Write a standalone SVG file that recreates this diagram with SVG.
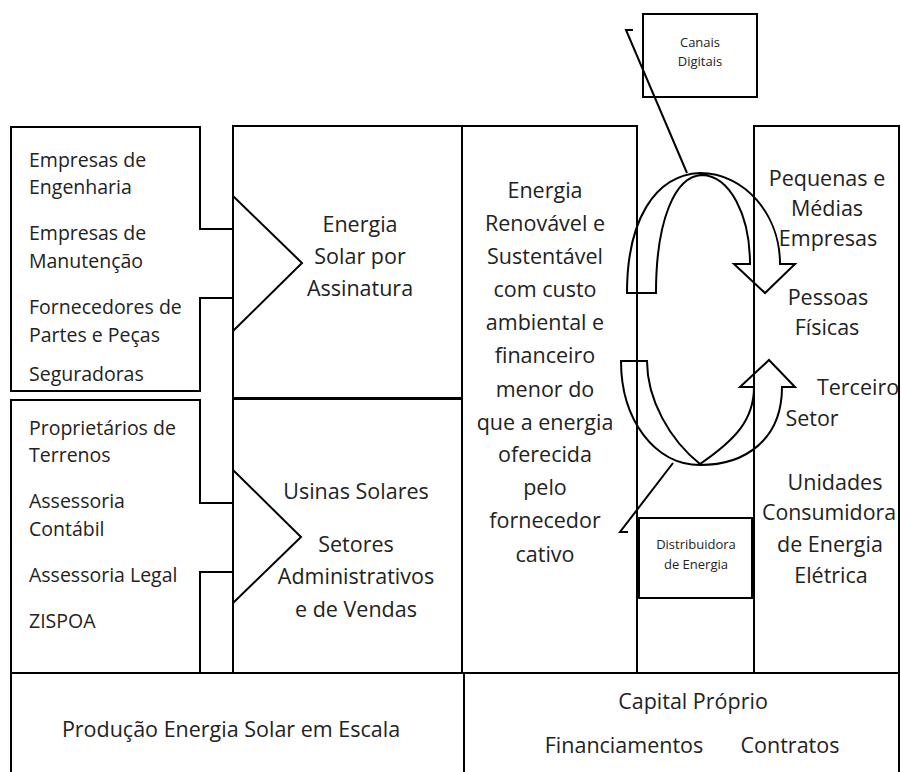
<svg xmlns="http://www.w3.org/2000/svg" width="901" height="772" viewBox="0 0 901 772">
  <style>
    .box { fill: none; stroke: #000; stroke-width: 2; }
    .ln { fill: none; stroke: #000; stroke-width: 2; stroke-linejoin: miter; }
    .arr { fill: none; stroke: #000; stroke-width: 2; stroke-linejoin: miter; }
    text { font-family: "Open Sans", "Noto Sans", sans-serif; fill: #222; }
    .lt { font-size: 19.5px; }
    .ct { font-size: 21.5px; text-anchor: middle; }
    .sm { font-size: 13px; text-anchor: middle; }
  </style>
  <rect x="0" y="0" width="901" height="772" fill="#fff"/>

  <!-- Partners, upper block with bracket notch -->
  <g id="partners-top">
    <path class="ln" d="M233,229 H200 V127 H11 V391 H200 V298 H233"/>
    <text class="lt" x="29" y="167">Empresas de</text>
    <text class="lt" x="29" y="194">Engenharia</text>
    <text class="lt" x="29" y="240">Empresas de</text>
    <text class="lt" x="29" y="268">Manutenção</text>
    <text class="lt" x="29" y="314">Fornecedores de</text>
    <text class="lt" x="29" y="342">Partes e Peças</text>
    <text class="lt" x="29" y="381">Seguradoras</text>
  </g>

  <!-- Partners, lower block -->
  <g id="partners-bottom">
    <path class="ln" d="M233,503 H200 V400 H11 V673 H200 V572 H233"/>
    <text class="lt" x="29" y="435">Proprietários de</text>
    <text class="lt" x="29" y="462">Terrenos</text>
    <text class="lt" x="29" y="508">Assessoria</text>
    <text class="lt" x="29" y="536">Contábil</text>
    <text class="lt" x="29" y="582">Assessoria Legal</text>
    <text class="lt" x="29" y="628">ZISPOA</text>
  </g>

  <!-- Activities -->
  <g id="activities">
    <rect class="box" x="233" y="126" width="229" height="272"/>
    <polyline class="ln" points="233,196 302,263 233,331"/>
    <text class="ct" x="360" y="232">Energia</text>
    <text class="ct" x="360" y="264">Solar por</text>
    <text class="ct" x="360" y="296">Assinatura</text>
  </g>

  <!-- Resources -->
  <g id="resources">
    <rect class="box" x="233" y="399" width="229" height="274"/>
    <polyline class="ln" points="233,470 301,537 233,603"/>
    <text class="ct" x="356" y="499">Usinas Solares</text>
    <text class="ct" x="356" y="552">Setores</text>
    <text class="ct" x="356" y="584">Administrativos</text>
    <text class="ct" x="356" y="617">e de Vendas</text>
  </g>

  <!-- Value proposition -->
  <g id="value-proposition">
    <rect class="box" x="462" y="126" width="175" height="547"/>
    <text class="ct" x="545" y="198">Energia</text>
    <text class="ct" x="545" y="231">Renovável e</text>
    <text class="ct" x="545" y="264">Sustentável</text>
    <text class="ct" x="545" y="297">com custo</text>
    <text class="ct" x="545" y="330">ambiental e</text>
    <text class="ct" x="545" y="363">financeiro</text>
    <text class="ct" x="545" y="397">menor do</text>
    <text class="ct" x="545" y="430">que a energia</text>
    <text class="ct" x="545" y="462">oferecida</text>
    <text class="ct" x="545" y="495">pelo</text>
    <text class="ct" x="545" y="528">fornecedor</text>
    <text class="ct" x="545" y="562">cativo</text>
  </g>

  <!-- Customer segments -->
  <g id="customers">
    <rect class="box" x="754" y="126" width="145" height="547"/>
    <text class="ct" x="827" y="186">Pequenas e</text>
    <text class="ct" x="827" y="216">Médias</text>
    <text class="ct" x="828" y="246">Empresas</text>
    <text class="ct" x="828" y="305">Pessoas</text>
    <text class="ct" x="827" y="335">Físicas</text>
    <text class="ct" x="858" y="395">Terceiro</text>
    <text class="ct" x="812" y="426">Setor</text>
    <text class="ct" x="835" y="490">Unidades</text>
    <text class="ct" x="829" y="520" textLength="134" lengthAdjust="spacingAndGlyphs">Consumidora</text>
    <text class="ct" x="830" y="552">de Energia</text>
    <text class="ct" x="831" y="583">Elétrica</text>
  </g>

  <!-- Channel: digital -->
  <g id="canais-digitais">
    <rect class="box" x="643" y="14" width="114" height="83"/>
    <text class="sm" x="700" y="47">Canais</text>
    <text class="sm" x="700" y="66">Digitais</text>
  </g>

  <!-- Channel: utility -->
  <g id="distribuidora">
    <rect class="box" x="639" y="518" width="113" height="80"/>
    <text class="sm" x="696" y="549">Distribuidora</text>
    <text class="sm" x="696" y="569">de Energia</text>
  </g>

  <!-- Cost structure -->
  <g id="costs">
    <rect class="box" x="11" y="673" width="453" height="110"/>
    <text class="ct" x="231" y="737">Produção Energia Solar em Escala</text>
  </g>

  <!-- Revenue streams -->
  <g id="revenue">
    <rect class="box" x="464" y="673" width="435" height="110"/>
    <text class="ct" x="693" y="709">Capital Próprio</text>
    <text class="ct" x="624" y="753">Financiamentos</text>
    <text class="ct" x="790" y="753">Contratos</text>
  </g>

  <!-- Connectors: relationship arrows and leader lines -->
  <g id="connectors">
    <path class="arr" d="M627,293 C627,220 655,175 700,173 C745,173 780,215 780,264 L795,264 L765,293 L734,264 L750,264 C750,215 730,176 702,175 C675,176 656,220 656,293 Z"/>
    <path class="arr" d="M621,361 C621,420 655,465 700,465 C745,465 782,440 782,387 L795,387 L769,360 L740,387 L754,387 C754,420 735,440 700,464 C670,440 647,400 647,361 Z"/>
    <polyline class="ln" points="633,30 626,30 687,173"/>
    <polyline class="ln" points="628,532 620,532 673,463"/>
  </g>
</svg>
